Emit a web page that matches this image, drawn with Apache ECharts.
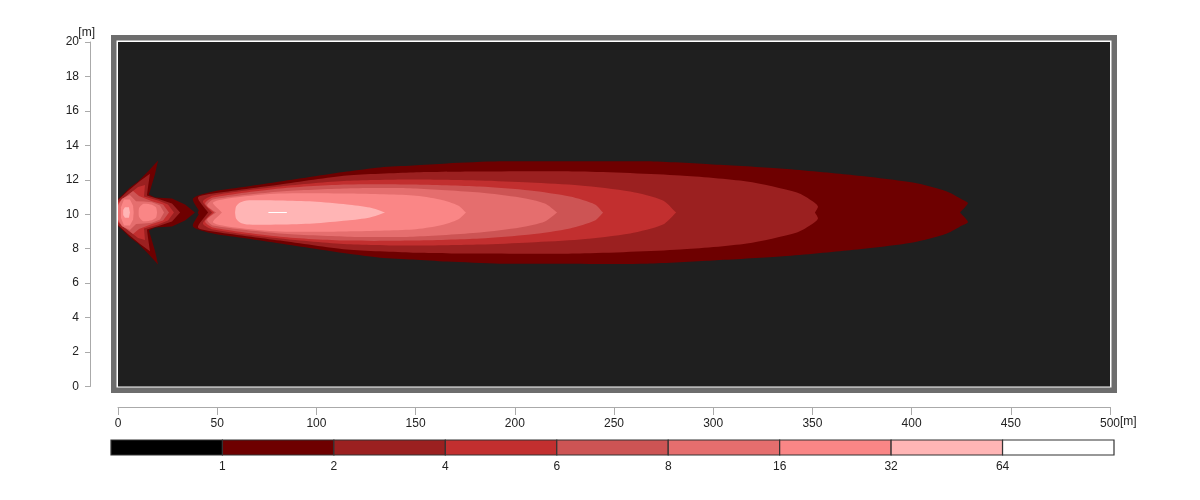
<!DOCTYPE html>
<html>
<head>
<meta charset="utf-8">
<script src="https://cdn.jsdelivr.net/npm/echarts@6/dist/echarts.min.js"></script>
<style>html,body{margin:0;padding:0;background:#fff}#chart{width:1200px;height:500px}</style>
</head>
<body>
<div id="chart"></div>
<script>
// ---------------- DATA ----------------
const xTicks = [0, 500, 50];          // x axis min, max, step [m]
const yTicks = [0, 20, 2];            // y axis min, max, step [m]
const plumeCenter = 10.1;             // y [m] of the plume axis

// legend classes
const legendLabels = ['1', '2', '4', '6', '8', '16', '32', '64'];
const legendColors = ['#000000', '#6e0000', '#9b2020', '#c22f2f', '#cd5454', '#e56e6e', '#fa8686', '#ffb5b5', '#ffffff'];
const levelValues  = [1, 2, 4, 6, 8, 16, 32, 64];

// contour outlines: [x m, half-width m] along upper side (mirrored about plumeCenter)
// near-source "arrow" pattern
const arrow1 = [[0,0.78],[2.5,1.05],[6.0,1.45],[10.1,1.80],[15.1,2.38],[20.2,3.02],[18.6,2.21],[17.1,1.63],[15.6,1.05],[18.6,0.87],[27.2,0.81],[33.8,0.47],[38.8,0]];
const arrow2 = [[0,0.72],[5.0,1.25],[11.1,1.83],[16.1,2.25],[15.1,1.45],[14.6,0.99],[21.2,0.76],[27.2,0.52],[31.3,0]];
const arrow4 = [[0,0.60],[5.0,1.02],[10.1,1.48],[13.6,1.60],[13.1,0.93],[20.2,0.70],[25.2,0.47],[28.2,0]];
const arrow6 = [[0,0.50],[3.5,0.90],[7.6,1.25],[10.6,0.96],[17.1,0.66],[22.7,0.47],[25.7,0]];
const arrow8 = [[0,0.40],[2.0,0.80],[6.0,1.02],[9.1,0.66],[13.1,0.64],[17.1,0.60],[21.2,0.41],[23.2,0]];
const arrow16a = [[1.5,0.30],[3.0,0.76],[6.0,0.76],[7.6,0.40],[7.9,0]];
const arrow16b = [[10.6,0.25],[12.6,0.50],[17.1,0.45],[19.2,0.29],[19.7,0]];
const arrow32 = [[2.6,0.15],[3.5,0.30],[5.5,0.30],[6.0,0]];
const gapDot1 = [[40.3,0.05],[40.8,0.12],[42.3,0.12],[42.8,0]];
// main plume
const plume1 = [[41.3,0],[37.8,0.81],[47.9,1.22],[65.0,1.51],[81.7,1.80],[98.3,2.09],[115.4,2.38],[132.1,2.62],[148.7,2.73],[165.8,2.85],[192.5,2.97],[217.7,2.97],[266.6,2.97],[299.9,2.79],[333.7,2.56],[367.4,2.21],[400.7,1.74],[417.8,1.22],[425.4,0.76],[428.4,0.55],[424.4,0]];
const plume2 = [[45.4,0],[40.3,0.87],[47.9,1.10],[81.7,1.63],[115.4,2.15],[148.7,2.33],[182.5,2.38],[232.9,2.38],[283.3,2.15],[317.0,1.80],[342.2,1.16],[350.3,0.64],[352.8,0.35],[351.3,0]];
const plume4 = [[47.4,0],[42.8,0.64],[47.9,0.99],[81.7,1.51],[115.4,1.84],[148.7,1.92],[182.5,1.86],[207.7,1.74],[232.9,1.57],[258.1,1.22],[274.7,0.70],[281.3,0]];
const plume6 = [[48.4,0],[43.9,0.52],[47.9,0.87],[81.7,1.40],[115.4,1.63],[148.7,1.63],[182.5,1.51],[207.7,1.28],[227.8,0.93],[240.4,0.47],[244.5,0]];
const plume8 = [[49.4,0],[44.9,0.41],[47.9,0.76],[81.7,1.22],[115.4,1.40],[148.7,1.40],[182.5,1.16],[202.6,0.87],[215.2,0.52],[221.3,0]];
const plume16 = [[52.4,0],[47.9,0.58],[59.0,0.87],[81.7,1.10],[115.4,1.10],[148.7,0.99],[162.3,0.76],[171.4,0.41],[175.4,0]];
const plume32 = [[59.0,0],[59.5,0.35],[61.5,0.58],[65.0,0.70],[81.7,0.70],[98.3,0.64],[115.4,0.47],[127.0,0.29],[134.6,0]];
const plume64 = [[75.6,0],[76.0,0.03],[85.0,0.03],[85.2,0]];

// shapes, drawn from the lowest level upward: [level, outline, smooth]
const shapes = [
  [1, arrow1, 0], [1, plume1, 0.25], [1, gapDot1, 0],
  [2, arrow2, 0], [2, plume2, 0.25],
  [4, arrow4, 0], [4, plume4, 0.25],
  [6, arrow6, 0], [6, plume6, 0.25],
  [8, arrow8, 0], [8, plume8, 0.25],
  [16, arrow16a, 0], [16, arrow16b, 0.2], [16, plume16, 0.25],
  [32, arrow32, 0], [32, plume32, 0.25],
  [64, plume64, 0]
];

// ---------------- CHART ----------------
const FONT = 'Liberation Sans, Arial, sans-serif';
const chart = echarts.init(document.getElementById('chart'));

function levelColor(level) {
  return legendColors[levelValues.indexOf(level) + 1];
}

const hiddenX = (g) => ({ type: 'value', gridIndex: g, show: false, min: 0, max: 1 });
const hiddenY = (g) => ({ type: 'value', gridIndex: g, show: false, min: 0, max: 1 });

const option = {
  animation: false,
  backgroundColor: '#ffffff',
  grid: [
    { left: 111, top: 35, width: 1006, height: 358, show: true, backgroundColor: '#6d6d6d', borderWidth: 0 },
    { left: 116.5, top: 40.5, width: 995, height: 347, show: true, backgroundColor: '#ffffff', borderWidth: 0 },
    { left: 118, top: 42, width: 992, height: 344.5, show: true, backgroundColor: '#1f1f1f', borderWidth: 0 },
    { left: 111, top: 440, width: 1003, height: 15, show: false }
  ],
  xAxis: [
    hiddenX(0), hiddenX(1),
    {
      type: 'value', gridIndex: 2, min: xTicks[0], max: xTicks[1], interval: xTicks[2],
      position: 'bottom', offset: 20.5,
      axisLine: { show: true, onZero: false, lineStyle: { color: '#aaaaaa', width: 1 } },
      axisTick: { show: true, length: 8, lineStyle: { color: '#aaaaaa' } },
      axisLabel: { color: '#222', fontSize: 12, fontFamily: FONT, margin: 11 },
      splitLine: { show: false },
      name: '\n[m]', nameLocation: 'end', nameGap: 10, nameMoveOverlap: false,
      nameTextStyle: { color: '#222', fontSize: 12, fontFamily: FONT, lineHeight: 30, verticalAlign: 'middle' }
    },
    {
      type: 'value', gridIndex: 3, min: 0, max: legendColors.length, interval: 1,
      axisLine: { show: false }, axisTick: { show: false }, splitLine: { show: false },
      axisLabel: {
        color: '#222', fontSize: 12, fontFamily: FONT, margin: 6,
        formatter: (v) => (v >= 1 && v <= legendLabels.length) ? legendLabels[v - 1] : ''
      }
    }
  ],
  yAxis: [
    hiddenY(0), hiddenY(1),
    {
      type: 'value', gridIndex: 2, min: yTicks[0], max: yTicks[1], interval: yTicks[2],
      position: 'left', offset: 28,
      axisLine: { show: true, onZero: false, lineStyle: { color: '#aaaaaa', width: 1 } },
      axisTick: { show: true, length: 5, lineStyle: { color: '#aaaaaa' } },
      axisLabel: { color: '#222', fontSize: 12, fontFamily: FONT, margin: 11 },
      splitLine: { show: false },
      name: '[m]', nameLocation: 'end', nameGap: 3, nameMoveOverlap: false,
      nameTextStyle: { color: '#222', fontSize: 12, fontFamily: FONT, align: 'right', padding: [0, -5, 0, 0] }
    },
    hiddenY(3)
  ],
  series: [
    {
      type: 'custom', xAxisIndex: 2, yAxisIndex: 2, clip: true,
      data: shapes.map((s, i) => [s[1][0][0], plumeCenter, i]),
      renderItem: function (params, api) {
        const s = shapes[api.value(2)];
        const outline = s[1];
        const upper = outline.map(p => api.coord([p[0], plumeCenter + p[1]]));
        const lower = outline.slice().reverse().map(p => api.coord([p[0], plumeCenter - p[1]]));
        return {
          type: 'polygon',
          shape: { points: upper.concat(lower), smooth: s[2] },
          style: { fill: levelColor(s[0]), stroke: null }
        };
      }
    },
    {
      type: 'custom', xAxisIndex: 3, yAxisIndex: 3,
      data: legendColors.map((c, i) => [i, 0, i]),
      renderItem: function (params, api) {
        const i = api.value(2);
        const p0 = api.coord([i, 1]);
        const p1 = api.coord([i + 1, 0]);
        return {
          type: 'rect',
          shape: { x: p0[0], y: p0[1], width: p1[0] - p0[0], height: p1[1] - p0[1] },
          style: { fill: legendColors[i], stroke: '#333333', lineWidth: 1.2 }
        };
      }
    }
  ]
};
chart.setOption(option);
</script>
</body>
</html>
